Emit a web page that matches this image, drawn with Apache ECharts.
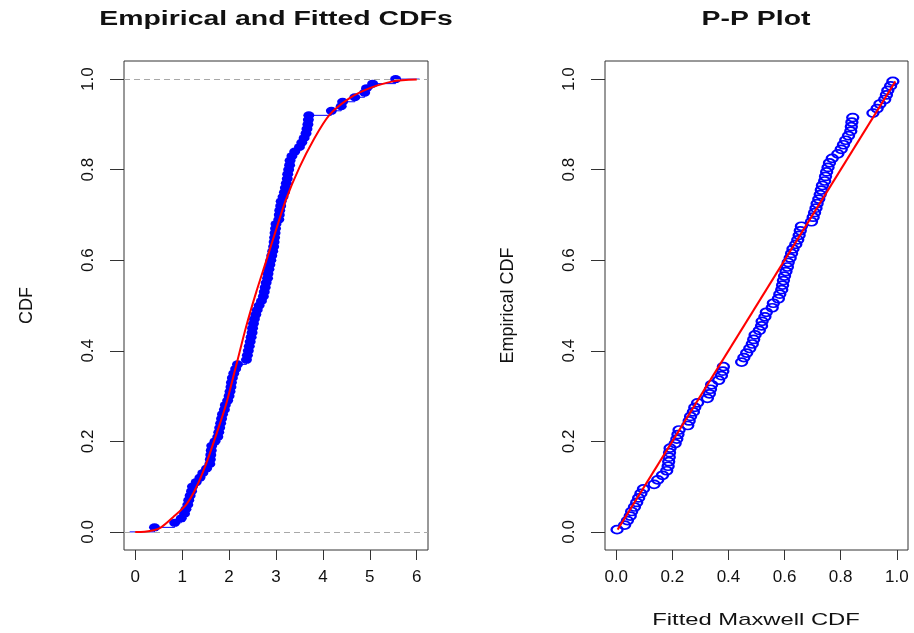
<!DOCTYPE html>
<html><head><meta charset="utf-8">
<script src="https://cdn.jsdelivr.net/npm/echarts@6/dist/echarts.min.js"></script>
<style>html,body{margin:0;padding:0;background:#fff}#c{width:914px;height:633px}</style>
</head><body><div id="c"></div>
<script>
// ---- Left panel: empirical CDF (sorted sample) ----
const sampleX = [0.41,0.84,0.98,1.05,1.08,1.12,1.14,1.17,1.20,1.22,
  1.30,1.38,1.44,1.52,1.59,1.60,1.61,1.62,1.63,1.70,
  1.76,1.78,1.80,1.82,1.84,1.86,1.90,1.92,1.97,2.00,
  2.02,2.04,2.05,2.07,2.10,2.14,2.18,2.37,2.39,2.41,
  2.43,2.45,2.47,2.49,2.50,2.52,2.54,2.57,2.60,2.64,
  2.69,2.73,2.75,2.77,2.79,2.82,2.83,2.85,2.87,2.89,
  2.91,2.93,2.95,2.96,2.97,2.98,2.99,3.00,3.06,3.07,
  3.08,3.10,3.11,3.15,3.18,3.20,3.22,3.24,3.25,3.27,
  3.29,3.30,3.34,3.40,3.50,3.55,3.60,3.64,3.66,3.68,
  3.69,3.70,4.18,4.39,4.42,4.68,4.89,4.93,5.06,5.55];
const ecdfY = [0.01,0.02,0.03,0.04,0.05,0.06,0.07,0.08,0.09,0.10,
  0.11,0.12,0.13,0.14,0.15,0.16,0.17,0.18,0.19,0.20,
  0.21,0.22,0.23,0.24,0.25,0.26,0.27,0.28,0.29,0.30,
  0.31,0.32,0.33,0.34,0.35,0.36,0.37,0.38,0.39,0.40,
  0.41,0.42,0.43,0.44,0.45,0.46,0.47,0.48,0.49,0.50,
  0.51,0.52,0.53,0.54,0.55,0.56,0.57,0.58,0.59,0.60,
  0.61,0.62,0.63,0.64,0.65,0.66,0.67,0.68,0.69,0.70,
  0.71,0.72,0.73,0.74,0.75,0.76,0.77,0.78,0.79,0.80,
  0.81,0.82,0.83,0.84,0.85,0.86,0.87,0.88,0.89,0.90,
  0.91,0.92,0.93,0.94,0.95,0.96,0.97,0.98,0.99,1.00];
const ecdfStart = [-0.12, 0];
const ecdfEnd = [6.06, 1];
// fitted Maxwell CDF
const fitX = [0, 0.2, 0.41, 0.55, 0.80, 1.09, 1.30, 1.51, 1.73, 1.94, 2.15, 2.36, 2.58, 2.79, 3.01, 3.22, 3.50, 3.79, 4.14, 4.57, 5.00, 5.49, 6.00];
const fitY = [0, 0.0005, 0.004, 0.01, 0.032, 0.061, 0.098, 0.15, 0.216, 0.283, 0.367, 0.452, 0.530, 0.598, 0.670, 0.736, 0.805, 0.864, 0.921, 0.958, 0.980, 0.995, 0.999];
const refLines = [0, 1];

// ---- Right panel: P-P plot ----
const ppX = [0.003,0.03,0.04,0.05,0.055,0.065,0.073,0.08,0.088,0.097,
  0.135,0.148,0.165,0.18,0.185,0.187,0.189,0.19,0.192,0.21,
  0.216,0.22,0.224,0.255,0.26,0.265,0.275,0.28,0.29,0.325,
  0.332,0.336,0.34,0.365,0.375,0.38,0.382,0.447,0.455,0.465,
  0.476,0.485,0.49,0.495,0.51,0.518,0.52,0.53,0.535,0.556,
  0.56,0.578,0.583,0.59,0.593,0.596,0.60,0.605,0.61,0.613,
  0.62,0.625,0.63,0.64,0.647,0.652,0.656,0.66,0.696,0.702,
  0.707,0.712,0.716,0.722,0.727,0.731,0.735,0.743,0.746,0.75,
  0.755,0.76,0.77,0.79,0.802,0.81,0.818,0.828,0.836,0.838,
  0.84,0.843,0.915,0.93,0.94,0.957,0.963,0.968,0.978,0.986];
const ppY = [0.005,0.015,0.025,0.035,0.045,0.055,0.065,0.075,0.085,0.095,
  0.105,0.115,0.125,0.135,0.145,0.155,0.165,0.175,0.185,0.195,
  0.205,0.215,0.225,0.235,0.245,0.255,0.265,0.275,0.285,0.295,
  0.305,0.315,0.325,0.335,0.345,0.355,0.365,0.375,0.385,0.395,
  0.405,0.415,0.425,0.435,0.445,0.455,0.465,0.475,0.485,0.495,
  0.505,0.515,0.525,0.535,0.545,0.555,0.565,0.575,0.585,0.595,
  0.605,0.615,0.625,0.635,0.645,0.655,0.665,0.675,0.685,0.695,
  0.705,0.715,0.725,0.735,0.745,0.755,0.765,0.775,0.785,0.795,
  0.805,0.815,0.825,0.835,0.845,0.855,0.865,0.875,0.885,0.895,
  0.905,0.915,0.925,0.935,0.945,0.955,0.965,0.975,0.985,0.995];
const diagX = [0.005, 0.995];
const diagY = [0.005, 0.995];

// ---- tick labels ----
const leftXTicks = [0, 1, 2, 3, 4, 5, 6];
const probTicks = [0, 0.2, 0.4, 0.6, 0.8, 1.0];

const titles = ['Empirical and Fitted CDFs', 'P-P Plot'];
const axisNames = { leftY: 'CDF', rightY: 'Empirical CDF', rightX: 'Fitted Maxwell CDF' };

const zip = (a, b) => a.map((v, i) => [v, b[i]]);
const stepData = [ecdfStart].concat(zip(sampleX, ecdfY)).concat([ecdfEnd]);

const FONT = '"Liberation Sans", Arial, sans-serif';
const INK = '#111';
const BOX = '#333';
const ELLIPSE = 'path://M0,5a5,5 0 1,0 10,0a5,5 0 1,0 -10,0z';

function xAx(gi, min, max, ticks, fmt) {
  return {
    gridIndex: gi, type: 'value', min: min, max: max, position: 'bottom',
    axisLine: { show: false, onZero: false },
    splitLine: { show: false },
    axisTick: { show: true, inside: false, customValues: ticks, length: 10, lineStyle: { color: BOX, width: 1 } },
    axisLabel: { customValues: ticks, formatter: fmt, color: INK, fontSize: 17, fontFamily: FONT, margin: 19 }
  };
}
function yAx(gi, name) {
  return {
    gridIndex: gi, type: 'value', min: -0.04, max: 1.04, position: 'left',
    axisLine: { show: false, onZero: false },
    splitLine: { show: false },
    axisTick: { show: true, inside: false, customValues: probTicks, length: 14, lineStyle: { color: BOX, width: 1 } },
    axisLabel: { customValues: probTicks, formatter: v => v.toFixed(1), rotate: 90, color: INK, fontSize: 17, fontFamily: FONT, margin: 27 },
    name: name, nameLocation: 'middle', nameRotate: 90, nameGap: 88,
    nameTextStyle: { color: INK, fontSize: 18, fontFamily: FONT }
  };
}

const chart = echarts.init(document.getElementById('c'), null, { renderer: 'canvas' });
chart.setOption({
  animation: false,
  backgroundColor: '#fff',
  graphic: [
    { type: 'text', x: 276, y: 19, scaleX: 1.42, style: { text: titles[0], font: 'bold 20px ' + FONT, fill: INK, textAlign: 'center', textVerticalAlign: 'middle' } },
    { type: 'text', x: 756, y: 19, scaleX: 1.42, style: { text: titles[1], font: 'bold 20px ' + FONT, fill: INK, textAlign: 'center', textVerticalAlign: 'middle' } },
    { type: 'text', x: 756, y: 620, scaleX: 1.4, style: { text: axisNames.rightX, font: '17px ' + FONT, fill: INK, textAlign: 'center', textVerticalAlign: 'middle' } }
  ],
  grid: [
    { left: 124, top: 61, width: 304, height: 489, show: true, borderColor: BOX, borderWidth: 1, backgroundColor: 'transparent', containLabel: false },
    { left: 605, top: 61, width: 303, height: 489, show: true, borderColor: BOX, borderWidth: 1, backgroundColor: 'transparent', containLabel: false }
  ],
  xAxis: [
    xAx(0, -0.24, 6.24, leftXTicks, v => String(v)),
    xAx(1, -0.04, 1.04, probTicks, v => v.toFixed(1))
  ],
  yAxis: [
    yAx(0, axisNames.leftY),
    yAx(1, axisNames.rightY)
  ],
  series: [
    {
      type: 'line', xAxisIndex: 0, yAxisIndex: 0, step: 'end', data: stepData,
      symbol: 'none', lineStyle: { color: '#0000ff', width: 1 }, z: 1,
      markLine: {
        silent: true, symbol: ['none', 'none'], label: { show: false },
        lineStyle: { color: '#a8a8a8', type: [6, 4], width: 1 },
        data: refLines.map(v => ({ yAxis: v }))
      }
    },
    {
      type: 'scatter', xAxisIndex: 0, yAxisIndex: 0, data: zip(sampleX, ecdfY),
      symbol: ELLIPSE, symbolSize: [11, 8], itemStyle: { color: '#0000ff', opacity: 1 }, z: 2
    },
    {
      type: 'line', xAxisIndex: 0, yAxisIndex: 0, data: zip(fitX, fitY), smooth: 0.3,
      symbol: 'none', lineStyle: { color: '#ff0000', width: 2 }, z: 5
    },
    {
      type: 'scatter', xAxisIndex: 1, yAxisIndex: 1, data: zip(ppX, ppY),
      symbol: ELLIPSE, symbolSize: [11, 8],
      itemStyle: { color: 'rgba(0,0,0,0)', borderColor: '#0000ff', borderWidth: 2, opacity: 1 }, z: 2
    },
    {
      type: 'line', xAxisIndex: 1, yAxisIndex: 1, data: zip(diagX, diagY),
      symbol: 'none', lineStyle: { color: '#ff0000', width: 2 }, z: 5
    }
  ]
});
</script>
</body></html>
